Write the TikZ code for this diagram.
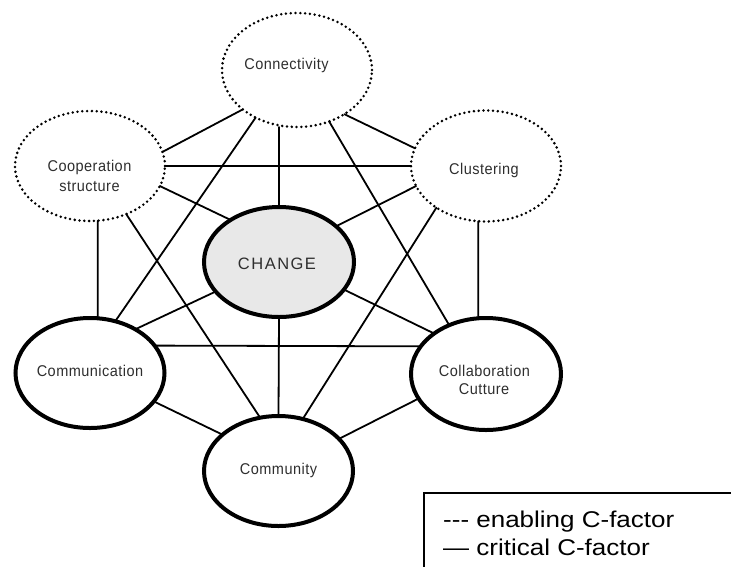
\documentclass[tikz,border=0pt]{standalone}
\usepackage{fontspec}
\setmainfont{Liberation Sans}
\newfontfamily\lblfont[FakeStretch=0.93,LetterSpace=3]{Liberation Sans}
\newfontfamily\chgfont[LetterSpace=9]{Liberation Sans}
\newfontfamily\legfont[FakeStretch=1.14]{Liberation Sans}
\usetikzlibrary{shapes.geometric}
\definecolor{txtgray}{HTML}{2E2E2E}
\definecolor{chgfill}{HTML}{E8E8E8}
\begin{document}
\begin{tikzpicture}[x=1pt,y=-1pt,
  cell/.style={ellipse, inner sep=0pt, outer sep=0pt},
  enab/.style={cell, draw, line width=2.8pt, dash pattern=on 0pt off 4.8pt, line cap=round},
  crit/.style={cell, draw, line width=4pt},
  lbl/.style={anchor=base, inner sep=0pt, text=txtgray, font=\lblfont\fontsize{15.6}{18}\selectfont},
  link/.style={line width=1.8pt, line cap=round},
  legtext/.style={anchor=base west, inner sep=0pt, font=\legfont\fontsize{22.8}{28}\selectfont}
]
\path[use as bounding box] (0,0) rectangle (731,566);
\clip (0,0) rectangle (731,566);

% nodes
\node[enab, minimum width=150pt, minimum height=114pt] (conn) at (297,70) {};
\node[enab, minimum width=150pt, minimum height=110pt] (coop) at (90,166) {};
\node[enab, minimum width=150pt, minimum height=111pt] (clust) at (486,166) {};
\node[crit, fill=chgfill, minimum width=150pt, minimum height=110pt] (change) at (279,262) {};
\node[crit, minimum width=149pt, minimum height=110pt] (comm) at (90,373) {};
\node[crit, minimum width=150pt, minimum height=112pt] (collab) at (486,374) {};
\node[crit, minimum width=149pt, minimum height=110pt] (cmty) at (278.5,471) {};

% connectors
\draw[link] (coop.11) -- (conn.216);
\draw[link] (conn.317) -- (clust.166);
\draw[link] (change.north) -- (change.north |- conn.south);
\draw[link] (conn.229) -- (comm.64);
\draw[link] (conn.302) -- (collab.127);
\draw[link] (coop.east) -- (clust.west);
\draw[link] (coop.344) -- (change.139);
\draw[link] (coop.307) -- (cmty.109);
\draw[link] (coop.278) -- (comm.82);
\draw[link] (clust.196) -- (change.32);
\draw[link] (clust.220) -- (cmty.65);
\draw[link] (clust.262) -- (collab.98);
\draw[link] (change.205) -- (comm.44);
\draw[link] (change.337) -- (collab.142);
\draw[link] (change.south) -- (cmty.north);
\draw[link] (comm.23) -- (collab.157);
\draw[link] (comm.336) -- (cmty.147);
\draw[link] (cmty.28) -- (collab.200);

% labels
\node[lbl] (tconn) at (286.5,69) {Connectivity};
\node[lbl] (tcoop1) at (89.5,171) {Cooperation};
\node[lbl] (tcoop2) at (89.5,191) {structure};
\node[lbl] (tclust) at (484,174) {Clustering};
\node[lbl, font=\chgfont\fontsize{16.5}{19}\selectfont] (tchange) at (277,269) {CHANGE};
\node[lbl] (tcomm) at (90,376) {Communication};
\node[lbl] (tcol1) at (484.5,376) {Collaboration};
\node[lbl] (tcol2) at (484,394) {Cutture};
\node[lbl] (tcmty) at (278.5,474) {Community};

% legend
\node[draw, line width=1.5pt, anchor=north west, minimum width=340pt, minimum height=100pt, inner sep=0pt] (legbox) at (423,492) {};
\node[legtext] (leg1) at (443,527) {-{}-{}- enabling C-factor};
\node[legtext] (leg2) at (443,555) {\textemdash{} critical C-factor};
\end{tikzpicture}
\end{document}
